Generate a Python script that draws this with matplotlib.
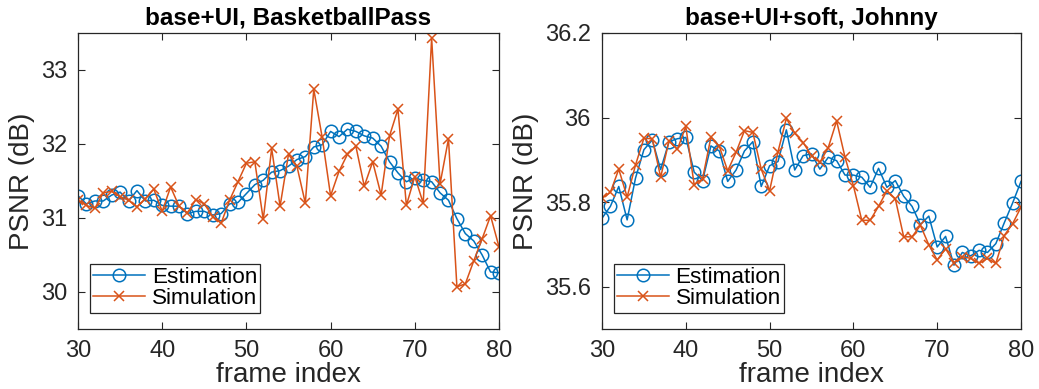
import matplotlib
matplotlib.use("Agg")
import matplotlib.pyplot as plt
import numpy as np

frames = list(range(30, 81))

# Left panel: base+UI, BasketballPass
est_left = [31.30, 31.19, 31.23, 31.23, 31.31, 31.35, 31.23, 31.37, 31.23, 31.24,
            31.17, 31.16, 31.16, 31.06, 31.09, 31.09, 31.04, 31.06, 31.19, 31.21,
            31.33, 31.45, 31.51, 31.62, 31.64, 31.70, 31.79, 31.83, 31.96, 31.99,
            32.17, 32.10, 32.20, 32.17, 32.11, 32.08, 31.97, 31.76, 31.61, 31.49,
            31.54, 31.51, 31.49, 31.34, 31.24, 30.99, 30.79, 30.69, 30.50, 30.27,
            30.26]
sim_left = [31.24, 31.17, 31.13, 31.34, 31.36, 31.29, 31.24, 31.15, 31.26, 31.39,
            31.09, 31.42, 31.16, 31.07, 31.25, 31.19, 31.02, 30.93, 31.24, 31.49,
            31.74, 31.76, 30.98, 31.94, 31.16, 31.86, 31.70, 31.20, 32.74, 32.09,
            31.30, 31.63, 31.86, 31.97, 31.43, 31.76, 31.31, 32.11, 32.47, 31.17,
            31.56, 31.20, 33.43, 31.46, 32.07, 30.07, 30.11, 30.42, 30.72, 31.03,
            30.61]

# Right panel: base+UI+soft, Johnny
est_right = [35.762, 35.790, 35.837, 35.758, 35.857, 35.924, 35.947, 35.877, 35.943, 35.950,
             35.953, 35.871, 35.851, 35.933, 35.921, 35.849, 35.876, 35.921, 35.943, 35.837,
             35.886, 35.896, 35.971, 35.876, 35.910, 35.914, 35.878, 35.906, 35.898, 35.864,
             35.864, 35.859, 35.835, 35.880, 35.835, 35.851, 35.814, 35.790, 35.747, 35.767,
             35.694, 35.719, 35.651, 35.681, 35.673, 35.686, 35.681, 35.702, 35.751, 35.798,
             35.849]
sim_right = [35.809, 35.823, 35.878, 35.812, 35.888, 35.951, 35.950, 35.859, 35.945, 35.925,
             35.979, 35.841, 35.855, 35.954, 35.932, 35.874, 35.918, 35.969, 35.965, 35.878,
             35.827, 35.919, 35.998, 35.963, 35.941, 35.910, 35.894, 35.929, 35.992, 35.906,
             35.839, 35.757, 35.757, 35.790, 35.827, 35.808, 35.718, 35.718, 35.745, 35.699,
             35.663, 35.690, 35.657, 35.671, 35.667, 35.655, 35.667, 35.655, 35.721, 35.749,
             35.788]

titles = ["base+UI, BasketballPass", "base+UI+soft, Johnny"]
xticks = [30, 40, 50, 60, 70, 80]
yticks_left = [30, 31, 32, 33]
yticks_right = [35.6, 35.8, 36.0, 36.2]
ytick_labels_right = ["35.6", "35.8", "36", "36.2"]

plt.rcParams['font.family'] = ['Liberation Sans', 'DejaVu Sans']

BLUE = "#0072BD"
ORANGE = "#D95319"
DARK = "#262626"

W, H = 1039, 389
fig = plt.figure(figsize=(W / 100, H / 100), dpi=100)

axes_px = [(78, 33, 499, 329), (602, 33, 1021, 329)]
panels = [
    (est_left, sim_left, (29.5, 33.5), yticks_left, [str(v) for v in yticks_left]),
    (est_right, sim_right, (35.5, 36.2), yticks_right, ytick_labels_right),
]

for (x0, y0, x1, y1), (est, sim, ylim, yt, ytl), title in zip(axes_px, panels, titles):
    ax = fig.add_axes([x0 / W, 1 - y1 / H, (x1 - x0) / W, (y1 - y0) / H])
    ax.plot(frames, est, color=BLUE, lw=1.1, marker='o', ms=9,
            mfc='none', mec=BLUE, mew=1.1, label='Estimation')
    ax.plot(frames, sim, color=ORANGE, lw=1.1, marker='x', ms=7.5,
            mew=1.1, label='Simulation')
    ax.set_xlim(30, 80)
    ax.set_ylim(*ylim)
    ax.set_xticks(xticks)
    ax.set_yticks(yt)
    ax.set_yticklabels(ytl)
    ax.tick_params(direction='in', top=True, right=True, length=5, width=0.8,
                   labelsize=17, colors=DARK, pad=8)
    for s in ax.spines.values():
        s.set_color(DARK)
        s.set_linewidth(0.9)
    ax.set_xlabel("frame index", fontsize=20, color=DARK, labelpad=0)
    ax.set_ylabel("PSNR (dB)", fontsize=20, color=DARK, labelpad=4)
    ax.set_title(title, fontsize=17.5, fontweight='bold', pad=6)
    leg = ax.legend(loc='lower left', bbox_to_anchor=(0.028, 0.055), fontsize=16.2,
                    frameon=True, fancybox=False, edgecolor=DARK, framealpha=1,
                    borderpad=0.15, labelspacing=0.02, handlelength=2.3,
                    handletextpad=0.3, borderaxespad=0)
    leg.get_frame().set_linewidth(0.9)

fig.savefig("out.png", dpi=100)
